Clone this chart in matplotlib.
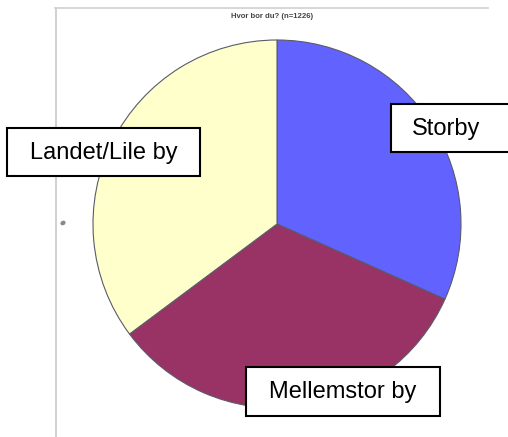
import matplotlib
matplotlib.use("Agg")
import matplotlib.pyplot as plt
from matplotlib.patches import Rectangle, Ellipse

# Survey answers, share of respondents (%)
categories = ["Storby", "Mellemstor by", "Landet/Lile by"]
shares = [31.7, 33.1, 35.2]
colors = ["#6262FF", "#993366", "#FFFFCC"]
title = "Hvor bor du? (n=1226)"

W, H = 508, 437
fig = plt.figure(figsize=(W / 100, H / 100), dpi=100)
ax = fig.add_axes([0, 0, 1, 1])

def py(y):
    # convert a top-down pixel row to axis y
    return H - y

ax.pie(shares, colors=colors, startangle=90, counterclock=False,
       center=(277, py(224)), radius=184, frame=True,
       wedgeprops=dict(edgecolor="#5a5a6a", linewidth=0.8))
ax.set_xlim(0, W)
ax.set_ylim(0, H)
ax.set_aspect("equal")
ax.axis("off")

# chart frame
ax.plot([55.5, 55.5], [py(7.5), py(437)], color="#c8c8c8", lw=1.2)
ax.plot([55, 488], [py(7.5), py(7.5)], color="#d0d0d0", lw=1.2)

ax.text(272, py(17), title, ha="center", va="center", fontsize=5.6,
        fontweight="bold", color="#444444", family="Liberation Sans")

ax.add_patch(Ellipse((63, py(223)), 4, 3, angle=30, color="#8a8a8a"))

# label boxes: (label, x0, y0, x1, y1, text x, alignment)
boxes = [
    ("Storby", 391, 104, 530, 152, 412, "left"),
    ("Landet/Lile by", 7, 128, 200, 176, 103.5, "center"),
    ("Mellemstor by", 246, 367, 440, 416, 343, "center"),
]
for label, x0, y0, x1, y1, tx, ha in boxes:
    ax.add_patch(Rectangle((x0, py(y1)), x1 - x0, y1 - y0, facecolor="white",
                           edgecolor="black", linewidth=1.5, zorder=5,
                           clip_on=True))
    ax.text(tx, py((y0 + y1) / 2 + 0.5), label, ha=ha, va="center",
            fontsize=17, family="Liberation Sans", color="black", zorder=6)

fig.savefig("out.png", dpi=100, facecolor="white")
